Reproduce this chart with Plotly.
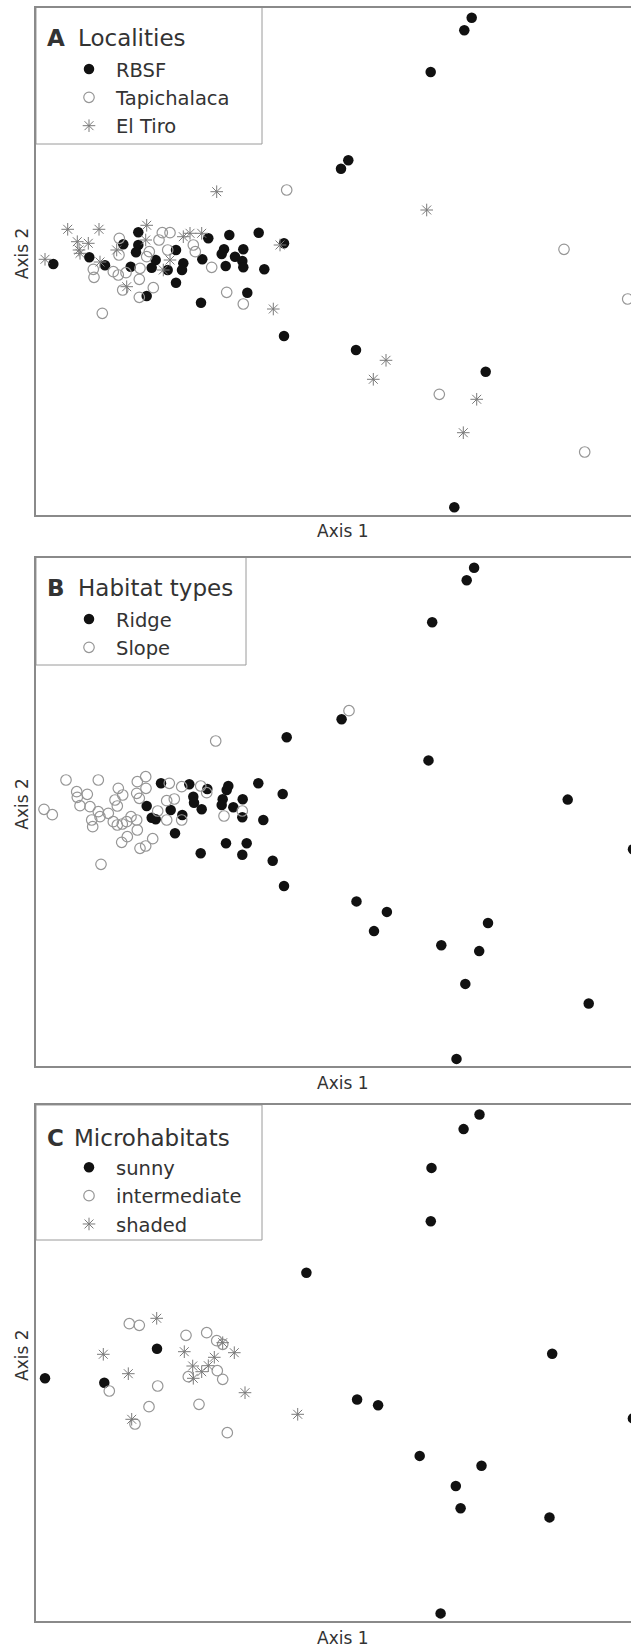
import plotly.graph_objects as go

W, H = 631, 1649

# ---------------- Panel A: Localities (Axis 1 / Axis 2 ordination scores) ----------------
a_rbsf_x = [471.7, 464.3, 430.7, 348.3, 341, 356, 485.7, 454.3,
            53.3, 89.3, 105, 123.3, 138.3, 138.3, 136, 130.7, 155.7, 151.7, 167.7, 176, 183.3, 182, 176, 146.7,
            202.3, 208.3, 201, 229.3, 224, 221.7, 225.7, 235, 243.3, 242.3, 243.3, 258.7, 264.3, 247.3, 284, 284]
a_rbsf_y = [17.7, 30.3, 72, 160.3, 168.7, 350, 371.7, 507.3,
            264, 257.3, 265.3, 244.3, 232.3, 245, 252.3, 266.7, 260, 267.7, 270, 250, 263.3, 270, 282.7, 296,
            259.3, 238.3, 302.7, 235, 249.3, 254, 266, 256.7, 249.3, 261, 267.3, 232.7, 269.3, 292.7, 243.3, 336]
a_tapi_x = [564, 627.7, 439.3, 584.7,
            119.3, 93.3, 94, 102.3, 113.3, 118.3, 126, 119, 140, 139.3, 149.3, 146.7, 159, 162.3, 170, 167.7,
            122.7, 139.3, 153.3, 193.3, 195.3, 211.7, 226.7, 243.3, 286.7]
a_tapi_y = [249.3, 299, 394.3, 452,
            238.3, 269.3, 277.3, 313.3, 271.7, 275, 272.7, 255, 268.3, 279.3, 251.7, 256.7, 240, 232.7, 232.7, 250,
            290, 297.3, 287.7, 245, 251.7, 267.3, 292.3, 304, 190]
a_tiro_x = [45, 67.7, 99, 77.3, 88.3, 79, 80, 146.7, 145.7, 183.3, 190, 201.7, 170, 126.7, 273.3, 216.7,
            116.7, 163.3, 280, 100, 426.7, 386, 373.3, 476.7, 463.3]
a_tiro_y = [259.3, 229.3, 229.3, 241.7, 243.3, 250, 253.3, 225.3, 240, 236.7, 233.3, 233.3, 260, 286.7, 309, 191.7,
            250, 270, 245, 262, 210, 360.3, 379.3, 399.3, 432.7]

# ---------------- Panel B: Habitat types ----------------
b_ridge_x = [474.1, 466.7, 432.2, 341.6, 428.5, 567.7, 633, 356.5, 386.9, 374, 488, 441.3, 479.2, 465.3, 588.7, 456.5,
             286.7, 282.7, 161, 189.3, 207.3, 228.3, 226.7, 258.3, 146.7, 193.3, 194, 222.7, 221.7, 242.7, 170.7,
             182.3, 151.7, 155.7, 201.7, 233.3, 242.3, 263.3, 175, 226, 246.7, 200.7, 242.3, 272.7, 284]
b_ridge_y = [567.7, 580.2, 622.2, 719.2, 760.4, 799.6, 849.3, 901.4, 911.9, 931.1, 923, 945.3, 951.1, 983.9, 1003.5, 1058.9,
             737.3, 794, 783.3, 784.3, 789, 786, 790, 783.3, 806, 796.7, 802.7, 799.3, 805, 799.3, 810,
             815, 817.7, 819.3, 809.3, 807.3, 817.3, 820, 833.3, 843.3, 843.3, 853.3, 854.7, 860.7, 886]
b_slope_x = [349, 44, 52.3, 66, 98.3, 76.7, 77.3, 80, 87.3, 90, 91.7, 92.7, 98.3, 100, 108.3, 115, 118.3, 122.7, 117.3,
             113.3, 117.3, 122.3, 126.7, 131, 136.7, 137.3, 145.7, 146, 136.7, 139.3, 137.3, 121.7, 127.3, 140,
             145.7, 152.7, 101, 169.3, 181.7, 200.7, 166.7, 174.3, 166.7, 181.7, 157.7, 215.7, 224, 206.7, 242.3]
b_slope_y = [710.7, 809.3, 814.7, 780, 780, 791.7, 797.3, 805.7, 794.3, 806.7, 820, 826.7, 811.7, 816.7, 813.3, 800, 788.3,
             795, 806, 821.7, 825, 824, 821.7, 816.7, 820, 781.7, 776.7, 788.3, 793.3, 798.3, 830, 842.3, 836.7,
             848.3, 846, 838.7, 864.3, 783.3, 786.7, 786, 800.7, 799, 820, 820, 811, 741, 816, 792.7, 811]

# ---------------- Panel C: Microhabitats ----------------
c_sunny_x = [45, 104.3, 157, 306.4, 479.5, 463.6, 431.5, 430.8, 552.2, 357.1, 378.1, 632.9, 419.7, 481.5, 455.8,
             460.6, 549.5, 440.6]
c_sunny_y = [1378.3, 1382.7, 1348.7, 1272.7, 1114.5, 1129.1, 1167.9, 1221.3, 1353.8, 1399.5, 1405.2, 1418.4, 1455.9,
             1465.7, 1486, 1508.3, 1517.4, 1613.4]
c_inter_x = [129.3, 139.3, 109.3, 157.7, 149, 135, 186, 206.7, 216.7, 222.7, 188.3, 217.3, 222.7, 199, 227.3]
c_inter_y = [1323.7, 1325.3, 1391, 1386, 1406.7, 1424, 1335.3, 1332.7, 1340.7, 1344.3, 1376.7, 1370.7, 1379.3,
             1404.3, 1432.7]
c_shade_x = [156.7, 103.3, 128.3, 184.3, 192.7, 193.3, 201.7, 208.3, 214.3, 222.7, 234.3, 245, 297.7, 131.7]
c_shade_y = [1318.3, 1354.3, 1373.7, 1351.7, 1366, 1378.3, 1371.7, 1365.7, 1357.3, 1342.7, 1352.7, 1392.7,
             1414.3, 1419.3]

# ---------------- text ----------------
panel_letters = ["A", "B", "C"]
legend_titles = ["Localities", "Habitat types", "Microhabitats"]
axis1_label = "Axis 1"
axis2_label = "Axis 2"

# ---------------- layout geometry (page pixels) ----------------
LEFT = 36
panels = [(7.5, 515), (557.5, 1066), (1105, 1621)]   # (top, bottom)
legend_boxes = [(36, 7.5, 262, 144), (36, 557.5, 246, 665), (36, 1105, 262, 1240)]
title_y = [38, 588, 1138.3]
first_item_y = [69, 619, 1167.3]
letter_gap = [14, 14, 10]

TXT = "#333333"
FONT = "DejaVu Sans"
BLACK = "#111111"
OPEN = "#969696"
STAR = "#7a7a7a"


def px(x):
    return x / W


def py(y):
    return 1 - y / H


fig = go.Figure()

style_fill = dict(mode="markers", marker=dict(symbol="circle", size=10.5, color=BLACK, line=dict(width=0)))
style_open = dict(mode="markers", marker=dict(symbol="circle-open", size=10.5, color=OPEN, line=dict(width=1.2)))
style_star = dict(mode="markers", marker=dict(symbol="asterisk-open", size=10.5, color=STAR, line=dict(width=1)))

series = [
    (1, "legend", "RBSF", a_rbsf_x, a_rbsf_y, style_fill),
    (1, "legend", "Tapichalaca", a_tapi_x, a_tapi_y, style_open),
    (1, "legend", "El Tiro", a_tiro_x, a_tiro_y, style_star),
    (2, "legend2", "Ridge", b_ridge_x, b_ridge_y, style_fill),
    (2, "legend2", "Slope", b_slope_x, b_slope_y, style_open),
    (3, "legend3", "sunny", c_sunny_x, c_sunny_y, style_fill),
    (3, "legend3", "intermediate", c_inter_x, c_inter_y, style_open),
    (3, "legend3", "shaded", c_shade_x, c_shade_y, style_star),
]
for k, leg, name, xs, ys, st in series:
    sfx = "" if k == 1 else str(k)
    fig.add_trace(go.Scatter(x=xs, y=ys, name=name, legend=leg, legendgroup=name,
                             xaxis="x" + sfx, yaxis="y" + sfx, cliponaxis=True, **st))

layout = dict(width=W, height=H, margin=dict(l=0, r=0, t=0, b=0, pad=0),
              paper_bgcolor="white", plot_bgcolor="white", showlegend=True,
              font=dict(family=FONT, color=TXT))
shapes = []
annotations = []
for i, (top, bot) in enumerate(panels):
    sfx = "" if i == 0 else str(i + 1)
    layout["xaxis" + sfx] = dict(domain=[px(LEFT), 1], range=[LEFT, W], showline=True, mirror=True,
                                 linecolor="#8a8a8a", linewidth=1.5, showgrid=False, zeroline=False,
                                 showticklabels=False, ticks="", anchor="y" + sfx, fixedrange=True)
    layout["yaxis" + sfx] = dict(domain=[py(bot), py(top)], range=[bot, top], showline=True, mirror=False,
                                 linecolor="#8a8a8a", linewidth=1.5, showgrid=False, zeroline=False,
                                 showticklabels=False, ticks="", anchor="x" + sfx, fixedrange=True)
    annotations.append(dict(text=axis1_label, x=px(343), y=py(bot + 16.5), xref="paper", yref="paper",
                            showarrow=False, font=dict(size=17, color=TXT, family=FONT),
                            xanchor="center", yanchor="middle"))
    annotations.append(dict(text=axis2_label, x=px(22), y=py((top + bot) / 2 - 8), xref="paper", yref="paper",
                            showarrow=False, textangle=-90, font=dict(size=17, color=TXT, family=FONT),
                            xanchor="center", yanchor="middle"))
    # legend title: bold panel letter + group name
    annotations.append(dict(text="<b>" + panel_letters[i] + "</b>", x=px(45), y=py(title_y[i]),
                            xref="paper", yref="paper", showarrow=False, xanchor="left", yanchor="middle",
                            font=dict(size=23, color=TXT, family=FONT)))
    annotations.append(dict(text=legend_titles[i], x=px(45 + 17 + letter_gap[i]), y=py(title_y[i]),
                            xref="paper", yref="paper", showarrow=False, xanchor="left", yanchor="middle",
                            font=dict(size=23, color=TXT, family=FONT)))
    x0, y0, x1, y1 = legend_boxes[i]
    shapes.append(dict(type="rect", xref="paper", yref="paper", x0=px(x0), x1=px(x1), y0=py(y1), y1=py(y0),
                       line=dict(color="#9a9a9a", width=1), fillcolor="white", layer="below"))
    legname = "legend" if i == 0 else "legend" + str(i + 1)
    layout[legname] = dict(x=px(36), y=py(first_item_y[i] - 19.2), xanchor="left", yanchor="top",
                           xref="paper", yref="paper", bgcolor="rgba(0,0,0,0)", borderwidth=0,
                           font=dict(size=19.5, color=TXT, family=FONT), indentation=26,
                           itemwidth=44, tracegroupgap=0, traceorder="grouped", itemclick=False,
                           itemdoubleclick=False)
layout["shapes"] = shapes
layout["annotations"] = annotations
fig.update_layout(**layout)
fig.write_html("out.html")
